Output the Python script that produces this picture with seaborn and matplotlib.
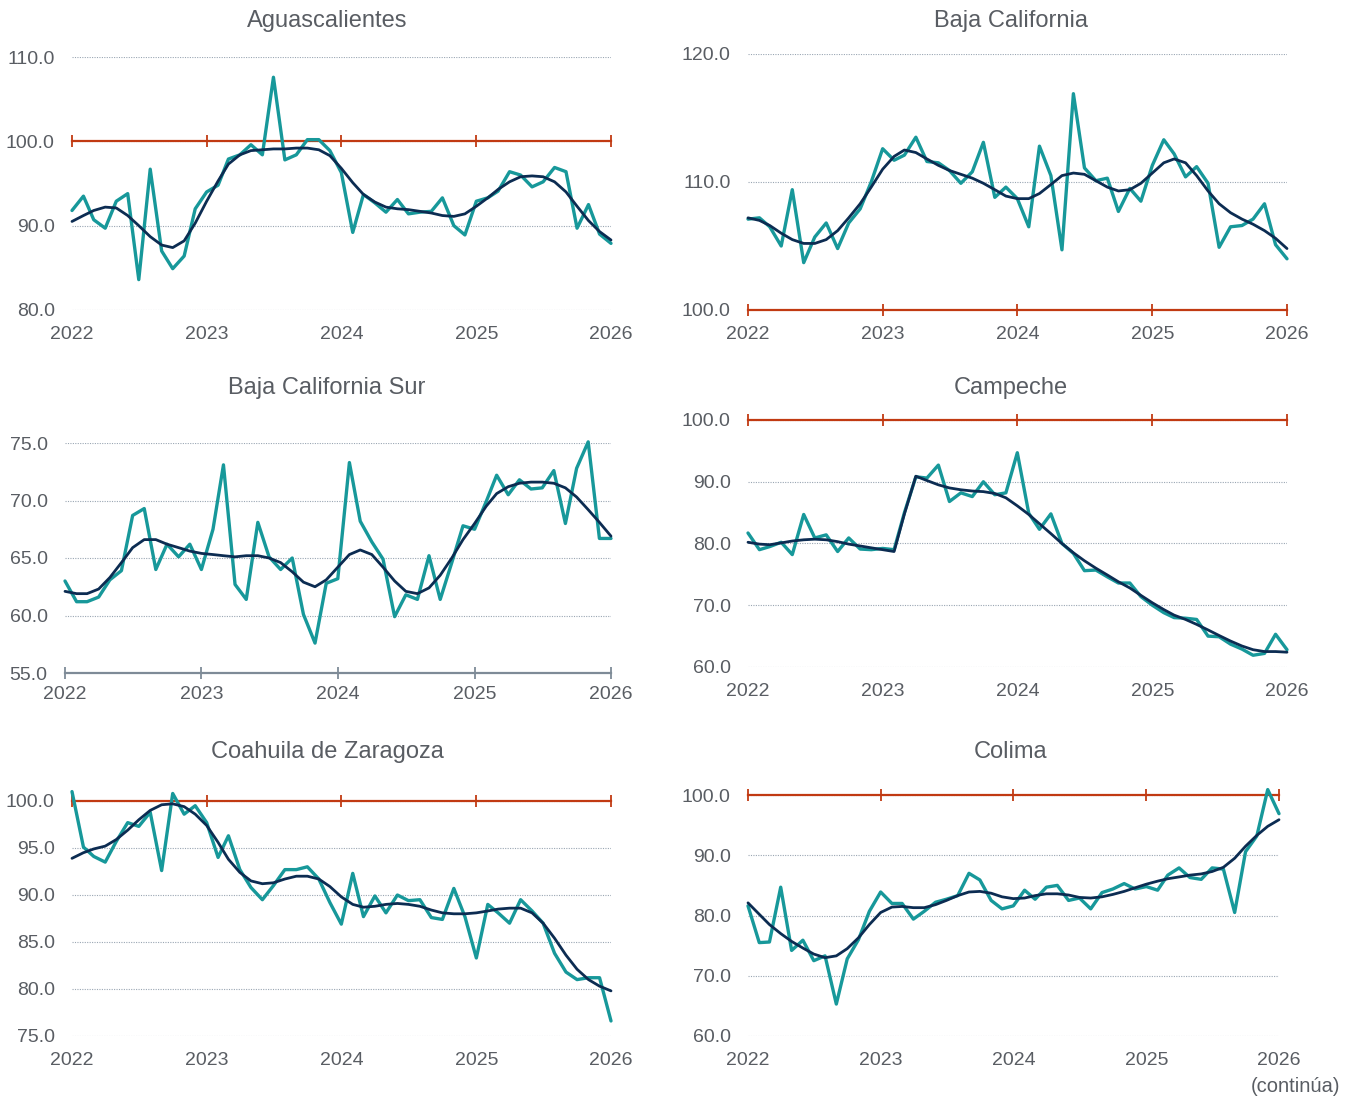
import seaborn as sns
import matplotlib.pyplot as plt
import matplotlib.dates as mdates
import pandas as pd

meses = pd.date_range("2022-01-01", periods=49, freq="MS")

ags_serie = [91.8, 93.5, 90.7, 89.7, 92.9, 93.8, 83.6, 96.7, 87.0, 84.9, 86.4, 92.0, 94.0, 94.8, 97.9, 98.4, 99.6,
             98.4, 107.6, 97.8, 98.4, 100.2, 100.2, 98.9, 96.3, 89.2, 93.7, 92.7, 91.6, 93.1, 91.4, 91.6, 91.7, 93.3,
             90.0, 88.9, 92.9, 93.3, 94.1, 96.4, 96.0, 94.6, 95.2, 96.9, 96.4, 89.7, 92.5, 89.0, 87.9]
ags_tend = [90.5, 91.2, 91.8, 92.2, 92.1, 91.2, 90.0, 88.7, 87.7, 87.4, 88.2, 90.3, 92.9, 95.3, 97.3, 98.4, 98.9,
            99.0, 99.1, 99.1, 99.2, 99.2, 99.0, 98.3, 96.8, 95.1, 93.7, 92.8, 92.2, 92.0, 91.9, 91.7, 91.5, 91.2,
            91.1, 91.4, 92.3, 93.3, 94.3, 95.2, 95.8, 95.9, 95.8, 95.2, 94.0, 92.3, 90.6, 89.3, 88.3]

bc_serie = [107.1, 107.2, 106.5, 105.0, 109.4, 103.7, 105.7, 106.8, 104.8, 106.8, 107.9, 110.0, 112.6, 111.7, 112.1,
            113.5, 111.6, 111.5, 110.9, 109.9, 110.8, 113.1, 108.8, 109.6, 108.7, 106.5, 112.8, 110.5, 104.7, 116.9,
            111.1, 110.1, 110.3, 107.7, 109.5, 108.5, 111.3, 113.3, 112.2, 110.4, 111.2, 109.9, 104.9, 106.5, 106.6,
            107.1, 108.3, 105.1, 104.0]
bc_tend = [107.2, 107.0, 106.6, 106.0, 105.5, 105.2, 105.2, 105.5, 106.2, 107.2, 108.3, 109.6, 111.0, 112.0, 112.5,
           112.3, 111.8, 111.3, 110.9, 110.6, 110.3, 109.9, 109.4, 108.9, 108.7, 108.7, 109.1, 109.8, 110.5, 110.7,
           110.6, 110.1, 109.6, 109.3, 109.4, 109.9, 110.7, 111.5, 111.8, 111.5, 110.5, 109.3, 108.3, 107.6, 107.1,
           106.7, 106.2, 105.6, 104.8]

bcs_serie = [63.0, 61.2, 61.2, 61.6, 63.1, 63.9, 68.7, 69.3, 64.0, 66.2, 65.1, 66.2, 64.0, 67.5, 73.1, 62.7, 61.4,
             68.1, 65.1, 64.0, 65.0, 60.1, 57.6, 62.8, 63.2, 73.3, 68.2, 66.4, 64.9, 59.9, 61.8, 61.4, 65.2, 61.4,
             64.6, 67.8, 67.5, 69.9, 72.2, 70.5, 71.8, 71.0, 71.1, 72.6, 68.0, 72.8, 75.1, 66.7, 66.7]
bcs_tend = [62.1, 61.9, 61.9, 62.3, 63.3, 64.6, 65.9, 66.6, 66.6, 66.2, 65.9, 65.6, 65.4, 65.3, 65.2, 65.1, 65.2,
            65.2, 65.0, 64.6, 63.8, 62.9, 62.5, 63.1, 64.2, 65.3, 65.7, 65.3, 64.2, 63.0, 62.1, 61.9, 62.4, 63.5,
            65.0, 66.6, 68.0, 69.5, 70.6, 71.2, 71.5, 71.6, 71.6, 71.5, 71.1, 70.3, 69.2, 68.1, 66.9]

camp_serie = [81.7, 79.0, 79.5, 80.2, 78.2, 84.7, 80.9, 81.4, 78.7, 80.9, 79.1, 79.0, 79.2, 79.0, 85.0, 90.8, 90.6,
              92.7, 86.8, 88.2, 87.6, 90.0, 87.9, 88.2, 94.7, 84.9, 82.3, 84.8, 80.0, 78.4, 75.6, 75.7, 74.6, 73.6,
              73.6, 71.4, 70.0, 68.8, 68.0, 67.9, 67.7, 65.0, 64.9, 63.7, 62.9, 61.9, 62.2, 65.3, 62.8]
camp_tend = [80.2, 79.9, 79.8, 80.1, 80.4, 80.6, 80.7, 80.6, 80.3, 79.9, 79.6, 79.3, 79.0, 78.7, 84.8, 90.9, 90.2,
             89.5, 89.0, 88.7, 88.5, 88.4, 88.1, 87.4, 86.1, 84.7, 83.2, 81.6, 80.0, 78.5, 77.2, 76.0, 74.9, 73.8,
             72.8, 71.6, 70.4, 69.3, 68.4, 67.7, 66.9, 66.0, 65.1, 64.2, 63.4, 62.8, 62.5, 62.5, 62.4]

coah_serie = [101.0, 95.1, 94.1, 93.5, 95.7, 97.7, 97.3, 98.8, 92.6, 100.8, 98.6, 99.5, 97.7, 94.0, 96.3, 92.7, 90.8,
              89.5, 91.0, 92.7, 92.7, 93.0, 91.7, 89.2, 86.9, 92.3, 87.7, 89.9, 88.1, 90.0, 89.4, 89.5, 87.6, 87.4,
              90.7, 87.7, 83.3, 89.0, 88.1, 87.0, 89.5, 88.3, 87.0, 83.8, 81.8, 81.0, 81.2, 81.2, 76.6]
coah_tend = [93.9, 94.5, 94.9, 95.2, 95.9, 96.9, 98.0, 99.0, 99.6, 99.7, 99.4, 98.6, 97.4, 95.6, 93.8, 92.4, 91.5,
             91.2, 91.3, 91.7, 92.0, 92.0, 91.7, 90.9, 89.8, 89.0, 88.7, 88.8, 89.0, 89.1, 89.0, 88.8, 88.4, 88.1,
             88.0, 88.0, 88.1, 88.3, 88.5, 88.6, 88.6, 88.1, 87.0, 85.4, 83.6, 82.1, 81.0, 80.3, 79.8]

col_serie = [81.6, 75.5, 75.6, 84.7, 74.2, 75.9, 72.5, 73.3, 65.3, 72.8, 76.0, 80.7, 83.9, 82.0, 82.0, 79.4, 80.7,
             82.2, 82.7, 83.3, 87.0, 85.9, 82.5, 81.1, 81.6, 84.2, 82.7, 84.7, 85.0, 82.5, 82.9, 81.1, 83.8, 84.4,
             85.3, 84.4, 84.8, 84.2, 86.7, 87.9, 86.3, 86.0, 87.9, 87.7, 80.5, 90.6, 93.2, 100.9, 96.9]
col_tend = [82.1, 80.2, 78.5, 77.0, 75.7, 74.6, 73.6, 73.0, 73.3, 74.5, 76.3, 78.5, 80.5, 81.4, 81.5, 81.3, 81.3,
            81.8, 82.5, 83.3, 83.9, 84.0, 83.7, 83.1, 82.8, 82.9, 83.3, 83.6, 83.6, 83.4, 83.0, 82.9, 83.1, 83.5,
            84.0, 84.6, 85.2, 85.7, 86.1, 86.4, 86.7, 86.9, 87.3, 88.0, 89.5, 91.5, 93.3, 94.8, 95.9]

ags_yticks = [80, 90, 100, 110]
bc_yticks = [100, 110, 120]
bcs_yticks = [55, 60, 65, 70, 75]
camp_yticks = [60, 70, 80, 90, 100]
coah_yticks = [75, 80, 85, 90, 95, 100]
col_yticks = [60, 70, 80, 90, 100]

referencia = 100

sns.set_style("white")
plt.rcParams["font.family"] = ["Liberation Sans", "DejaVu Sans"]

TEAL = "#17989a"
NAVY = "#0c2c52"
ROJO = "#c13a12"
TEXTO = "#595d63"
GRID = "#9aa6b3"
EJE = "#7e8b97"

W, H = 1353, 1098
fig = plt.figure(figsize=(W / 100, H / 100), dpi=100)

# (titulo, serie, tendencia, yticks, caja en pixeles izq/arriba/der/abajo, centro del titulo)
paneles = [
    ("Aguascalientes", ags_serie, ags_tend, ags_yticks, (72, 57, 611, 310), (327, 21)),
    ("Baja California", bc_serie, bc_tend, bc_yticks, (748, 54, 1287, 310), (1011, 21)),
    ("Baja California Sur", bcs_serie, bcs_tend, bcs_yticks, (65, 443, 611, 673), (327, 388)),
    ("Campeche", camp_serie, camp_tend, camp_yticks, (748, 420, 1287, 667), (1011, 388)),
    ("Coahuila de Zaragoza", coah_serie, coah_tend, coah_yticks, (72, 801, 611, 1036), (327, 752)),
    ("Colima", col_serie, col_tend, col_yticks, (748, 795, 1279, 1036), (1011, 752)),
]

for titulo, serie, tend, yticks, caja, pos_tit in paneles:
    l, t, r, b = caja
    ax = fig.add_axes([l / W, 1 - b / H, (r - l) / W, (b - t) / H])
    df = pd.DataFrame({"fecha": meses, "serie": serie, "tendencia": tend})

    sns.lineplot(data=df, x="fecha", y="serie", color=TEAL, lw=2.4, ax=ax, clip_on=False, zorder=3)
    sns.lineplot(data=df, x="fecha", y="tendencia", color=NAVY, lw=2.0, ax=ax, clip_on=False, zorder=4)

    ax.set_xlim(meses[0], meses[-1])
    ax.set_ylim(yticks[0], yticks[-1])
    ax.set_yticks(yticks)
    ax.yaxis.set_major_formatter(plt.FormatStrFormatter("%.1f"))
    ax.xaxis.set_major_locator(mdates.YearLocator())
    ax.xaxis.set_major_formatter(mdates.DateFormatter("%Y"))
    ax.set_xlabel("")
    ax.set_ylabel("")

    ax.grid(False)
    ax.yaxis.grid(True, linestyle=(0, (1, 1.2)), color=GRID, lw=0.8)
    ax.set_axisbelow(True)
    for s in ax.spines.values():
        s.set_visible(False)

    ax.tick_params(axis="y", left=False, labelsize=14, labelcolor=TEXTO, pad=9)
    if yticks[0] <= referencia <= yticks[-1]:
        # linea roja en 100 con marcas anuales
        ax.spines["top"].set_visible(True)
        ax.spines["top"].set_position(("data", referencia))
        ax.spines["top"].set_color(ROJO)
        ax.spines["top"].set_linewidth(1.6)
        ax.spines["top"].set_zorder(2)
        ax.tick_params(axis="x", top=True, bottom=False, labeltop=False, labelbottom=True,
                       direction="inout", length=9, width=1.3, color=ROJO,
                       labelsize=14, labelcolor=TEXTO, pad=7)
    else:
        ax.spines["bottom"].set_visible(True)
        ax.spines["bottom"].set_color(EJE)
        ax.spines["bottom"].set_linewidth(1.6)
        ax.tick_params(axis="x", bottom=True, direction="inout", length=9, width=1.3, color=EJE,
                       labelsize=14, labelcolor=TEXTO, pad=5)

    fig.text(pos_tit[0] / W, 1 - pos_tit[1] / H, titulo, ha="center", va="center",
             fontsize=17, color=TEXTO)

fig.text(1295 / W, 1 - 1086 / H, "(continúa)", ha="center", va="center", fontsize=14.5, color=TEXTO)

plt.savefig("out.png", dpi=100)
